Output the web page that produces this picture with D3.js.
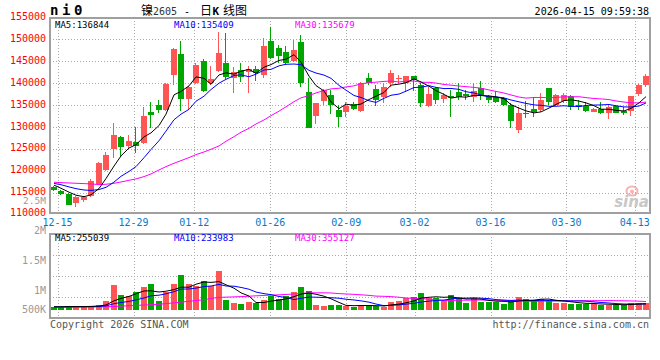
<!DOCTYPE html>
<html><head><meta charset="utf-8">
<script src="https://cdn.jsdelivr.net/npm/d3@7"></script>
<style>body{margin:0;background:#fff}svg{display:block}</style>
</head><body>
<svg id="c" width="660" height="360"></svg>
<script>
const dates = ["12-12","12-15","12-16","12-17","12-18","12-19","12-22","12-23","12-24","12-25","12-26","12-29","12-30","12-31",
"01-05","01-06","01-07","01-08","01-09","01-12","01-13","01-14","01-15","01-16","01-19","01-20","01-21","01-22","01-23",
"01-26","01-27","01-28","01-29","01-30","02-02","02-03","02-04","02-05","02-06","02-09","02-10","02-11","02-12","02-13",
"02-24","02-25","02-26","02-27","03-02","03-03","03-04","03-05","03-06","03-09","03-10","03-11","03-12","03-13",
"03-16","03-17","03-18","03-19","03-20","03-23","03-24","03-25","03-26","03-27","03-30","03-31","04-01","04-02","04-03",
"04-07","04-08","04-09","04-10","04-13","04-14","04-15"];
const opens = [116200,115460,114700,112560,113320,114320,116980,120170,124970,127780,125650,126640,126410,133490,135010,133870,141860,146580,136380,139960,
145050,140110,142770,144670,141100,143000,142620,143150,141860,149620,147950,147180,145130,149470,138050,132500,136000,137290,133870,133490,
135240,133720,141100,138590,136910,139960,141050,139960,141630,139580,134860,138810,136300,137060,138050,137520,136760,138810,137060,136910,
136530,135010,129300,133260,134100,133870,138890,135010,135920,137060,135010,134780,133340,134100,133110,134780,133720,133720,137520,139580];
const highs = [116600,115600,114850,114240,114240,118040,122080,124360,130830,128010,128160,130060,134480,135770,136150,140110,147950,149700,139350,144520,
145430,143990,151750,151370,143600,144520,143910,143910,150230,152740,148710,148480,149850,150990,141100,135540,138660,138430,135010,135770,
135770,140340,142240,139580,139960,143000,141860,141630,141700,139960,139200,139200,137670,138430,139960,138430,139960,140490,137290,138210,
136760,135390,134630,135920,136760,137670,138890,137520,137670,137290,136150,135770,134250,135770,135010,135010,134480,137060,139730,142010];
const lows = [115400,114550,112100,111650,112940,114090,116750,120020,122840,123220,125120,124130,126110,129680,133260,133720,139580,133720,133870,139800,
137980,139580,142620,140870,137830,140340,137830,140560,141100,145430,144520,144140,144900,139200,129680,130670,135010,132960,130060,132350,
133870,133490,139580,134780,135390,139200,139960,138050,138210,134630,134480,135240,135390,132350,136150,136150,135770,136150,135390,135540,
134860,129840,128690,131970,132350,133490,135010,134780,135390,133870,133870,133410,133340,132960,131890,133110,132730,132500,137060,139200];
const closes = [115600,114700,112180,113930,113930,117740,121850,123600,128160,125500,126790,125650,132500,132730,133870,139800,147720,136380,139040,144140,
138210,140950,146960,141480,142620,141480,143150,142390,148480,145660,146200,144520,147570,139960,129680,135390,138430,135010,132350,134780,
134010,139960,140110,136150,139040,142390,141150,141630,140720,135390,137520,136150,137290,136530,136910,137060,138210,137060,136150,135770,
135010,131430,133110,132960,133490,136150,135770,137290,137290,134480,134630,133720,134100,133260,134480,133260,133110,137060,139500,141630];
const volumes = [131000,131000,169000,169000,131000,169000,208000,362000,977000,592000,
554000,708000,900000,1015000,362000,708000,1015000,1362000,1015000,938000,
1131000,938000,1515000,400000,285000,235000,323000,273000,400000,554000,
427000,554000,708000,900000,746000,196000,181000,208000,208000,169000,
142000,208000,208000,181000,119000,323000,373000,465000,527000,681000,
477000,465000,373000,592000,477000,296000,477000,335000,335000,335000,
258000,350000,527000,438000,400000,438000,373000,296000,296000,258000,
258000,258000,258000,208000,208000,208000,208000,296000,296000,273000];
// moving-average values at the start of the window (earlier days not shown)
const ma5Head = [116700,116000,115100,114400];
const ma10Head = [117100,116800,116300,115900,115600,115500,115700,116200,117400];
const ma30Head = [117360,117280,117200,117130,117050,116980,116830,116900,117130,117430,117810,118120,118650,119260,120170,
120930,121700,122300,122990,123670,124280,124890,125650,126720,127780,128770,129680,130670,131590];
const volMa5Head = [140000,140000,145000,150000];
const volMa10Head = [135000,135000,138000,140000,142000,145000,150000,175000,258000];
const volMa30Head = [119000,120000,122000,125000,128000,132000,137000,143000,150000,165000,180000,195000,205000,220000,235000,
260000,290000,320000,350000,380000,410000,460000,500000,510000,520000,530000,545000,560000,575000];
const priceTicks = [155000,150000,145000,140000,135000,130000,125000,120000,115000,110000];
const volTickLabels = ["2.5M","2M","1.5M","1M","500K"];
const dateTicks = ["12-15","12-29","01-12","01-26","02-09","03-02","03-16","03-30","04-13"];
const maLabelValues = [136844,135409,135679];
const volMaLabelValues = [255039,233983,355127];

const RED = "#ff5555", GREEN = "#00a600";
const MA_COLORS = ["#000000","#0000ff","#ff00ff"];
const MONO = "'DejaVu Sans Mono', monospace";
const CJK = "'Noto Sans CJK SC', sans-serif";

function movingAvg(arr, n, head){
  return arr.map((v,i)=>{
    if (i < n-1) return head[i];
    return d3.mean(arr.slice(i-n+1, i+1));
  });
}

const svg = d3.select("#c");
const L = 50, R = 650, mTop = 18, mBot = 212.5, vTop = 234, vBot = 318;

const x = d3.scaleBand().domain(dates).range([L, R]).paddingInner(0.2).paddingOuter(0.1);
const xp = d3.scalePoint().domain(dates).range([L, R]);
const y = d3.scaleLinear().domain([110000,155000]).range([214.5,17.4]);
const vy = d3.scaleLinear().domain([0,2900000]).range([310.4,235]);
const vgrid = d3.scaleLinear().domain([0,4]).range([vBot, vTop]);
const volLabelY = d3.scalePoint().domain(volTickLabels).range([200.9, 320.9]);
const bw = Math.round(x.bandwidth());
const cx = d => Math.round(x(d)) + bw/2;

// grid
const grid = svg.append("g").attr("stroke","#aaaaaa").attr("stroke-dasharray","1,2").attr("stroke-width",1);
priceTicks.filter(p => p < 155000 && p > 110000).forEach(p=>{
  const yy = Math.round(y(p))+0.5;
  grid.append("line").attr("x1",L).attr("x2",R).attr("y1",yy).attr("y2",yy);
});
[1,2,3].forEach(k=>{
  const yy = Math.round(vgrid(k))+0.5;
  grid.append("line").attr("x1",L).attr("x2",R).attr("y1",yy).attr("y2",yy);
});
dateTicks.forEach(d=>{
  const xx = Math.round(xp(d))+0.5;
  grid.append("line").attr("x1",xx).attr("x2",xx).attr("y1",mTop).attr("y2",mBot);
  grid.append("line").attr("x1",xx).attr("x2",xx).attr("y1",vTop).attr("y2",vBot);
});

// watermark
const wm = svg.append("g");
wm.append("ellipse").attr("cx",632).attr("cy",191).attr("rx",5.5).attr("ry",4.5).attr("fill","none").attr("stroke","#f4b4b4").attr("stroke-width",2);
wm.append("circle").attr("cx",632).attr("cy",191.5).attr("r",2).attr("fill","#f4b4b4");
wm.append("text").attr("x",649).attr("y",207).attr("text-anchor","end")
  .attr("font-family","'DejaVu Sans', sans-serif").attr("font-weight","bold").attr("font-style","italic")
  .attr("font-size",15).attr("fill","#c8c8c8").text("sina");

// candles
const idx = d3.range(dates.length);
const cg = svg.append("g").attr("shape-rendering","crispEdges");
idx.forEach(i=>{
  const d = dates[i], up = closes[i] >= opens[i], col = up ? RED : GREEN;
  const xc = Math.round(x(d));
  cg.append("line").attr("x1",xc+2.5).attr("x2",xc+2.5).attr("y1",y(highs[i])).attr("y2",y(lows[i])).attr("stroke",col);
  const top = y(Math.max(opens[i],closes[i])), bot = y(Math.min(opens[i],closes[i]));
  cg.append("rect").attr("x",xc).attr("width",bw).attr("y",top).attr("height",Math.max(1,bot-top)).attr("fill",col);
});

// volume bars
const vg = svg.append("g").attr("shape-rendering","crispEdges");
idx.forEach(i=>{
  const d = dates[i], col = closes[i] >= opens[i] ? RED : GREEN;
  vg.append("rect").attr("x",Math.round(x(d))).attr("width",bw).attr("y",vy(volumes[i]))
    .attr("height",vy(0)-vy(volumes[i])).attr("fill",col);
});

// MA lines
const priceMAs = [movingAvg(closes,5,ma5Head), movingAvg(closes,10,ma10Head), movingAvg(closes,30,ma30Head)];
const volMAs = [movingAvg(volumes,5,volMa5Head), movingAvg(volumes,10,volMa10Head), movingAvg(volumes,30,volMa30Head)];
[2,1,0].forEach(k=>{
  svg.append("path").datum(idx).attr("fill","none").attr("stroke",MA_COLORS[k]).attr("stroke-width",1)
    .attr("d", d3.line().x(i=>cx(dates[i])).y(i=>y(priceMAs[k][i])));
  svg.append("path").datum(idx).attr("fill","none").attr("stroke",MA_COLORS[k]).attr("stroke-width",1)
    .attr("d", d3.line().x(i=>cx(dates[i])).y(i=>vy(volMAs[k][i])));
});

// frames
const fr = svg.append("g").attr("fill","none").attr("stroke","#a0a0a0").attr("shape-rendering","crispEdges");
fr.append("rect").attr("x",L).attr("y",mTop).attr("width",R-L).attr("height",mBot-mTop).attr("stroke-width",2);
fr.append("rect").attr("x",L).attr("y",vTop).attr("width",R-L).attr("height",vBot-vTop).attr("stroke-width",2);

// MA labels
const maNames = ["MA5:","MA10:","MA30:"], maX = [55,174,295];
maNames.forEach((n,k)=>{
  svg.append("text").attr("x",maX[k]).attr("y",27.5).attr("font-family",MONO).attr("font-size",9)
    .attr("fill",MA_COLORS[k]).text(n + maLabelValues[k]);
  svg.append("text").attr("x",maX[k]).attr("y",240.8).attr("font-family",MONO).attr("font-size",9)
    .attr("fill",MA_COLORS[k]).text(n + volMaLabelValues[k]);
});

// price axis labels
priceTicks.forEach(p=>{
  svg.append("text").attr("x",46).attr("y",Math.min(y(p),213)+2.6).attr("text-anchor","end")
    .attr("font-family",MONO).attr("font-size",10).attr("fill","#ff0000").text(p);
});
// volume axis labels
volTickLabels.forEach(t=>{
  svg.append("text").attr("x",46).attr("y",Math.min(volLabelY(t),310)+3.4).attr("text-anchor","end")
    .attr("font-family",MONO).attr("font-size",t === "2.5M" ? 9.5 : 10).attr("fill","#999999").text(t);
});
// date labels
dateTicks.forEach(d=>{
  svg.append("text").attr("x",xp(d)).attr("y",225.5).attr("text-anchor","middle")
    .attr("font-family",MONO).attr("font-size",10).attr("fill","#0a78c8").text(d);
});

// header
svg.append("text").attr("x",50).attr("y",15).attr("font-family",MONO).attr("font-weight","bold")
  .attr("font-size",14).attr("letter-spacing",3.6).attr("fill","#000").text("ni0");
const t = svg.append("text").attr("y",14.5).attr("font-family",CJK).attr("font-size",12).attr("fill","#000");
t.append("tspan").attr("x",141).text("镍");
t.append("tspan").attr("x",153).attr("font-family",MONO).attr("font-size",10).attr("fill","#333").text("2605");
t.append("tspan").attr("x",184).attr("font-family",MONO).attr("font-size",10).text("-");
t.append("tspan").attr("x",200).text("日");
t.append("tspan").attr("x",212.5).attr("font-family",MONO).attr("font-weight","bold").attr("font-size",11).text("K");
t.append("tspan").attr("x",223).text("线图");
svg.append("text").attr("x",649).attr("y",15).attr("text-anchor","end").attr("font-family",MONO)
  .attr("font-size",10).attr("fill","#000").text("2026-04-15 09:59:38");

// footer
svg.append("text").attr("x",50).attr("y",327.5).attr("font-family",MONO).attr("font-size",10)
  .attr("fill","#555").text("Copyright 2026 SINA.COM");
svg.append("text").attr("x",649).attr("y",327.5).attr("text-anchor","end").attr("font-family",MONO)
  .attr("font-size",10).attr("fill","#555").text("http://finance.sina.com.cn");
</script>
</body></html>
